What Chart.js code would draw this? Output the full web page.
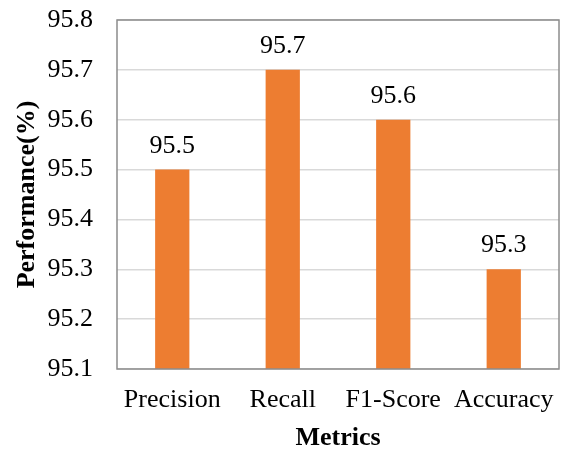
<!DOCTYPE html>
<html><head><meta charset="utf-8">
<script src="https://cdn.jsdelivr.net/npm/chart.js@4/dist/chart.umd.min.js"></script>
<style>html,body{margin:0;padding:0;background:#fff}#wrap{width:564px;height:452px}</style>
</head><body><div id="wrap"><canvas id="c" width="564" height="452"></canvas></div>
<script>
const categories = ["Precision", "Recall", "F1-Score", "Accuracy"];
const performance = [95.5, 95.7, 95.6, 95.3];
const yTicks = [95.1, 95.2, 95.3, 95.4, 95.5, 95.6, 95.7, 95.8];
const FONT = "'Liberation Serif','Times New Roman',serif";

const framePlugin = {
  id: 'frame',
  afterDatasetsDraw(chart) {
    const {ctx, chartArea: a} = chart;
    ctx.save();
    ctx.strokeStyle = '#8c8c8c';
    ctx.lineWidth = 1.5;
    ctx.strokeRect(a.left, a.top, a.right - a.left, a.bottom - a.top);
    ctx.restore();
  }
};
const valueLabels = {
  id: 'valueLabels',
  afterDatasetsDraw(chart) {
    const {ctx} = chart;
    const meta = chart.getDatasetMeta(0);
    ctx.save();
    ctx.font = "26px " + FONT;
    ctx.fillStyle = '#000';
    ctx.textAlign = 'center';
    ctx.textBaseline = 'alphabetic';
    meta.data.forEach((bar, i) => {
      ctx.fillText(performance[i].toFixed(1), bar.x, bar.y - 17);
    });
    ctx.restore();
  }
};

new Chart(document.getElementById('c'), {
  type: 'bar',
  data: {
    labels: categories,
    datasets: [{
      data: performance,
      backgroundColor: '#ED7D31',
      borderWidth: 0,
      categoryPercentage: 1.0,
      barPercentage: 0.31
    }]
  },
  options: {
    responsive: false,
    animation: false,
    layout: {padding: {top: 20, right: 5, left: 0, bottom: 0}},
    plugins: {legend: {display: false}, tooltip: {enabled: false}},
    scales: {
      x: {
        grid: {display: false, drawTicks: false},
        border: {display: false},
        ticks: {font: {family: FONT, size: 26}, color: '#000', padding: 16, maxRotation: 0, autoSkip: false},
        title: {display: true, text: 'Metrics', font: {family: FONT, size: 26, weight: 'bold'}, color: '#000', padding: {top: 0, bottom: -2}},
        afterFit(axis) { axis.height = 83; axis.paddingLeft = 0; axis.paddingRight = 0; }
      },
      y: {
        min: 95.1, max: 95.8,
        afterBuildTicks(axis) { axis.ticks = yTicks.map(v => ({value: v})); },
        grid: {color: '#d9d9d9', lineWidth: 1.5, drawTicks: false},
        border: {display: false},
        ticks: {font: {family: FONT, size: 26}, color: '#000', padding: 24,
          callback: v => Number(v).toFixed(1)},
        title: {display: true, text: 'Performance(%)', font: {family: FONT, size: 26, weight: 'bold'}, color: '#000', padding: {top: 12, bottom: 0}},
        afterFit(axis) { axis.width = 117; axis.paddingTop = 0; axis.paddingBottom = 0; }
      }
    }
  },
  plugins: [framePlugin, valueLabels]
});
</script></body></html>
